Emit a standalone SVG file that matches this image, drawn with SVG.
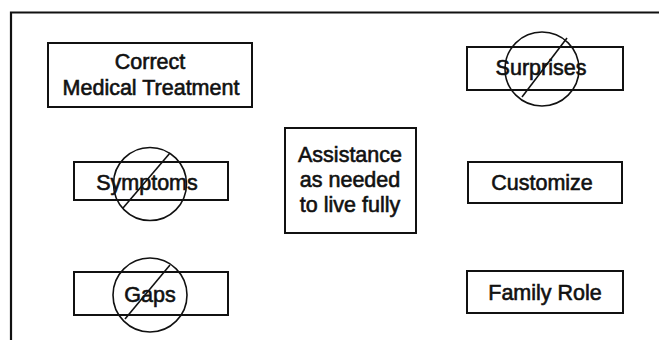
<svg xmlns="http://www.w3.org/2000/svg" width="659" height="340" viewBox="0 0 659 340">
<style>
.box{fill:none;stroke:#111;stroke-width:2}
.no{fill:none;stroke:#111;stroke-width:1.6}
text{font-family:"Liberation Sans",Arial,sans-serif;font-size:21.5px;fill:#111;stroke:#111;stroke-width:0.6;text-anchor:middle}
</style>
<rect width="659" height="340" fill="#fff"/>
<g id="frame">
<path d="M11,340 V12.5 H659" fill="none" stroke="#111" stroke-width="2.2"/>
</g>
<g id="correct-medical-treatment">
<rect class="box" x="48" y="43" width="204" height="64"/>
<text x="150" y="69">Correct</text>
<text x="151" y="95">Medical Treatment</text>
</g>
<g id="surprises">
<rect class="box" x="467" y="47" width="156" height="43"/>
<text x="541" y="75">Surprises</text>
<circle class="no" cx="542" cy="69" r="37"/>
<line class="no" x1="522" y1="97" x2="567" y2="38"/>
</g>
<g id="symptoms">
<rect class="box" x="74" y="162" width="154" height="38"/>
<text x="147" y="190">Symptoms</text>
<circle class="no" cx="150" cy="184" r="36.5"/>
<line class="no" x1="123" y1="208" x2="170" y2="153"/>
</g>
<g id="assistance">
<rect class="box" x="285" y="128" width="131" height="105"/>
<text x="350" y="162">Assistance</text>
<text x="350" y="187">as needed</text>
<text x="350" y="212">to live fully</text>
</g>
<g id="customize">
<rect class="box" x="468" y="162" width="154" height="41"/>
<text x="542" y="190">Customize</text>
</g>
<g id="gaps">
<rect class="box" x="74" y="272" width="154" height="43"/>
<text x="150" y="302">Gaps</text>
<circle class="no" cx="150" cy="295" r="37"/>
<line class="no" x1="125" y1="319" x2="170" y2="265"/>
</g>
<g id="family-role">
<rect class="box" x="467" y="271" width="156" height="42"/>
<text x="545" y="300">Family Role</text>
</g>
<g id="connectors"></g>
</svg>
